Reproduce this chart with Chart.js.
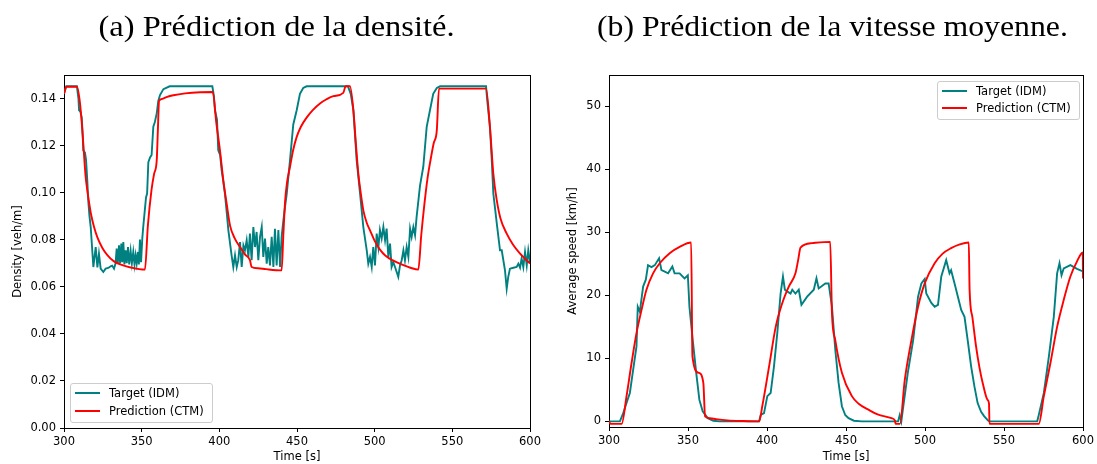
<!DOCTYPE html>
<html><head><meta charset="utf-8">
<script src="https://cdn.jsdelivr.net/npm/chart.js@4.4.1/dist/chart.umd.min.js"></script>
<style>
html,body{margin:0;padding:0;background:#fff;}
#root{position:relative;width:1097px;height:464px;overflow:hidden;background:#fff;}
canvas{position:absolute;top:0;}
.title{position:absolute;top:11px;font-family:'Liberation Serif',serif;font-size:30px;line-height:30px;white-space:nowrap;color:#000;}
.legbox{position:absolute;border:1px solid #cccccc;border-radius:3px;background:rgba(255,255,255,0.8);box-sizing:border-box;}
.legtext{position:absolute;font-family:'DejaVu Sans';font-size:11.5px;line-height:14px;height:14px;white-space:nowrap;color:#000;}
.legline{position:absolute;width:25px;height:2px;}
</style>
</head><body>
<div id="root">
  <canvas id="c1" width="548" height="464" style="left:0px;width:548px;height:464px"></canvas>
  <canvas id="c2" width="541" height="464" style="left:556px;width:541px;height:464px"></canvas>
  <div class="title" id="t1">(a) Prédiction de la densité.</div>
  <div class="title" id="t2">(b) Prédiction de la vitesse moyenne.</div>
</div>
<script>
// ---------- data ----------
const xTicksStep = 50;
const legendLabels = ['Target (IDM)', 'Prediction (CTM)'];
const titles = ['(a) Prédiction de la densité.', '(b) Prédiction de la vitesse moyenne.'];
const axisLabels = { time: 'Time [s]', density: 'Density [veh/m]', speed: 'Average speed [km/h]' };

// density, target (IDM): [time s, veh/m]
const densityTarget = [
 [300,0.142],[301.5,0.1452],[308.3,0.1452],[309.3,0.140],[309.7,0.135],[310.5,0.1345],[311.4,0.132],[312,0.125],[312.4,0.118],[313.5,0.117],
 [314.2,0.1138],[315,0.105],[315.6,0.0968],[316.4,0.090],[317.2,0.0854],[318.9,0.0684],[320.4,0.0769],[321.5,0.0682],[322.5,0.0741],[323.6,0.0677],
 [325.3,0.0663],[326.8,0.0677],[328.5,0.0680],[330,0.0687],[331,0.0690],[332.2,0.0677],[333.2,0.0700],[333.9,0.0762],[334.6,0.0698],[335.4,0.0776],
 [336.1,0.0700],[336.9,0.0784],[337.5,0.0705],[338.2,0.0790],[338.9,0.0695],[339.7,0.0755],[340.4,0.0700],[341.2,0.0769],[342,0.0695],[342.9,0.0752],
 [343.7,0.0700],[344.6,0.0748],[345.4,0.0695],[346.1,0.0734],[346.8,0.0700],[347.6,0.0748],[348.2,0.0695],[348.9,0.0801],[349.6,0.0705],[350.4,0.0805],
 [351,0.0854],[352.8,0.098],[353.5,0.0996],[354.3,0.113],[355.4,0.115],[356.4,0.116],[357.5,0.128],[358.5,0.130],[359.7,0.1337],[360.7,0.139],
 [361.8,0.1415],[364,0.144],[368,0.1452],[395.5,0.1452],[396.5,0.141],[397.2,0.135],[398.5,0.131],[399.3,0.118],[400.5,0.116],[401.5,0.1095],
 [402.5,0.105],[403.6,0.0996],[404.7,0.092],[405.8,0.0841],[407.9,0.0734],[409,0.0684],[410.1,0.0734],[411.2,0.0684],[412.2,0.0713],[413.3,0.0790],
 [414.4,0.0684],[415.5,0.0776],[416.5,0.0755],[417.6,0.0798],[418.7,0.0727],[419.7,0.0826],[420.8,0.0713],[421.9,0.0854],[423,0.0769],[424,0.0833],
 [425.1,0.0713],[426.2,0.0812],[427.3,0.0854],[428.3,0.0727],[429.4,0.0805],[430.5,0.0698],[431.5,0.0769],[432.6,0.0691],[433.7,0.0812],[434.8,0.0684],
 [435.8,0.0847],[436.9,0.0691],[438,0.0841],[439.1,0.0684],[440.1,0.0812],[441.2,0.088],[442.3,0.094],[443.4,0.0996],[445.5,0.1138],[447.6,0.129],
 [449.8,0.135],[451.9,0.142],[454,0.1445],[456.2,0.1452],[482.8,0.1452],[484.6,0.142],[486.3,0.135],[488.4,0.1138],[490.6,0.0996],[492.7,0.0854],
 [494.9,0.0755],[495.9,0.0698],[497,0.0727],[498.1,0.0684],[499.1,0.0769],[500.2,0.0691],[501.3,0.0826],[502.4,0.0769],[503.4,0.0841],[504.5,0.0805],
 [505.6,0.0854],[506.7,0.0798],[507.7,0.0847],[508.8,0.0727],[509.9,0.0784],[510.9,0.0684],[512,0.0705],[513.1,0.0684],[515.2,0.0642],[516.3,0.0691],
 [517.4,0.0713],[518.5,0.0755],[519.5,0.0713],[520.6,0.0769],[521.7,0.0727],[522.8,0.0847],[523.8,0.0812],[524.9,0.0854],[526,0.0819],[527,0.0897],
 [529.2,0.103],[531.3,0.111],[533.5,0.128],[535.6,0.135],[537.7,0.142],[540,0.1445],[542.1,0.1452],[571.7,0.1452],[572.5,0.139],[574.2,0.128],
 [575.3,0.115],[576.4,0.0996],[578.9,0.0854],[580.7,0.0755],[581.8,0.0755],[583.9,0.0670],[585,0.0592],[586,0.0642],[587.1,0.0677],[589.3,0.0681],
 [591.4,0.0684],[592.5,0.0698],[593.6,0.0681],[594.6,0.0720],[595.7,0.0684],[596.8,0.0748],[597.9,0.0691],[598.9,0.0755],[600,0.0705]
];

// density, prediction (CTM)
const densityPrediction = [
 [300,0.142],[301.5,0.145],[308.4,0.145],[310.3,0.138],[311.4,0.130],[312.4,0.121],[313.9,0.107],[315,0.101],[316.1,0.096],[317.5,0.0905],
 [319.3,0.0855],[321.5,0.081],[324.7,0.0765],[327.9,0.0735],[332.2,0.0708],[337.6,0.0692],[342.9,0.0682],[352.1,0.0673],[354,0.086],[356.3,0.101],
 [358,0.108],[359.7,0.1138],[360.4,0.126],[361.2,0.139],[363,0.1398],[366,0.1406],[370.4,0.1414],[378,0.1422],[387.6,0.1427],[395.8,0.1428],
 [398,0.130],[400.4,0.118],[402.6,0.105],[404.7,0.0954],[406.9,0.0860],[410,0.0805],[413.3,0.0769],[416.5,0.0738],[419.7,0.0713],[420.8,0.0684],
 [425,0.0679],[430,0.0675],[440.1,0.0670],[441.2,0.082],[442.3,0.096],[443.5,0.104],[445.5,0.111],[447.5,0.118],[449.8,0.1237],[452.5,0.128],
 [456.3,0.132],[460,0.135],[464.8,0.1379],[469,0.1397],[473.4,0.141],[479.8,0.1424],[481.3,0.1452],[484.1,0.1452],[486.3,0.135],[488,0.120],
 [489.5,0.108],[491,0.100],[492.7,0.0925],[495,0.0870],[497,0.0840],[500,0.0795],[503.4,0.0758],[507,0.0732],[512,0.0711],[518.5,0.0692],
 [523,0.0681],[528.1,0.0673],[530,0.082],[532,0.095],[534,0.106],[536,0.114],[538,0.121],[540,0.1265],[541.4,0.1442],[571.7,0.1442],
 [574.2,0.128],[576.4,0.108],[578.6,0.0968],[581,0.089],[585,0.0826],[589,0.0780],[593.6,0.0741],[597,0.0718],[600,0.0699]
];

// average speed, target (IDM): [time s, km/h]
const speedTarget = [
 [300,0],[306.9,0],[309,1.3],[311.1,2.9],[313.2,4.5],[315.3,8.2],[317.4,11.9],[318.2,18.2],[319.5,17.4],[321.6,21.4],
 [323.3,22.5],[324.7,24.8],[326.9,24.5],[329,24.8],[331.7,25.9],[333.2,24],[335,23.8],[337.4,23.5],[340.1,24.6],[341.5,23.5],
 [344.7,23.5],[347.8,22.7],[349.9,23.2],[350.9,18.2],[353,12.9],[355.2,7.7],[357.2,3.4],[359.3,1.6],[362.5,0.5],[366,0.1],
 [370,0],[395,0],[396,1],[398.1,1.3],[400.2,4],[402.3,4.5],[404.4,8.7],[406.5,14],[408.6,20.3],[410.1,23],
 [411.3,20.9],[413,20.6],[414.9,20.3],[416,20.9],[418,20.3],[420.1,20.9],[421.8,18.5],[425.4,19.8],[429.6,20.9],[431.3,22.7],
 [432.7,21.1],[436.9,21.9],[439,21.9],[441.1,18.2],[443.2,11.4],[445.3,6.1],[447.4,2.4],[449.5,1],[451.6,0.5],[455,0.1],
 [460,0],[483,0],[484,1],[485,0],[486,1.9],[489.1,7.7],[492.5,12.9],[495.6,19.8],[497.7,21.9],[499.8,22.6],
 [500.8,20.3],[504,18.8],[506.1,18.2],[508.2,18.5],[510.3,23],[513.4,25.6],[515.5,23.5],[516.5,24],[518.7,21.9],[520.8,19.8],
 [522.9,17.7],[525,16.6],[527,12.9],[529.2,8.7],[531.3,5.5],[533.3,2.9],[535.5,1.5],[537.5,0.8],[540,0.1],[541,0],
 [571,0],[572,1],[575.2,4.5],[578.4,10.3],[581.5,16.6],[583.6,23.5],[585.1,25.1],[586.4,23.2],[587.8,24.3],[592,24.8],
 [596.2,24.2],[600,23.8]
];

// average speed, prediction (CTM)
const speedPrediction = [
 [300,0],[301,-0.4],[308,-0.4],[311.1,4],[314.3,9.3],[317.4,14],[320.6,17.7],[323.7,20.9],[327.9,23.5],[332.1,25.1],
 [338.4,26.7],[344.7,27.7],[352,28.4],[352.8,10.3],[356.8,7.7],[359.7,6.1],[360.8,0.8],[364,0.5],[367.7,0.35],[375,0.15],
 [385,0.05],[395,0],[397,2.4],[401.3,8.7],[405.5,15],[409.7,18.8],[413.8,21.4],[418,23.5],[419.7,25.6],[421.2,27.6],
 [428.5,28.3],[440,28.5],[441.1,17.2],[443.2,12.9],[447.4,7.7],[453.7,4],[458,2.8],[464.2,1.85],[470,1.1],[478.8,0.5],
 [481,0.1],[481.4,-0.4],[484.1,-0.4],[487.2,6.6],[491.4,12.9],[495.6,18.2],[499.8,21.9],[506.1,25.1],[511,26.6],[516.5,27.5],
 [522,28.1],[527.7,28.4],[528.2,21],[530,16.5],[532.3,11.9],[534.5,8.5],[536.5,6.1],[539.6,3.4],[540.5,2.8],[540.8,-0.4],
 [572,-0.4],[575.2,4],[579.4,9.3],[583.6,15],[587.8,19.3],[592,23],[596.2,25.4],[599.8,26.8],[600,22.7]
];

// ---------- styling / layout ----------
const TEAL = '#008080', RED = '#ff0000';
const FONT = 'DejaVu Sans';
const toXY = arr => arr.map(p => ({x: p[0], y: p[1]}));

function makeChart(id, cfg) {
  const tickFont = {family: FONT, size: 11.5};
  return new Chart(document.getElementById(id), {
    type: 'line',
    data: {
      datasets: [
        {label: legendLabels[1], data: toXY(cfg.pred), borderColor: RED, borderWidth: 1.9, pointRadius: 0, fill: false, cubicInterpolationMode: 'monotone', order: 0},
        {label: legendLabels[0], data: toXY(cfg.target), borderColor: TEAL, borderWidth: 1.9, pointRadius: 0, fill: false, tension: 0, order: 1}
      ]
    },
    options: {
      responsive: false, animation: false, devicePixelRatio: 1,
      layout: {padding: {top: 75, right: cfg.padRight, left: 0, bottom: 0}},
      plugins: {legend: {display: false}, tooltip: {enabled: false}},
      scales: {
        x: {
          type: 'linear', position: 'bottom', min: 300, max: 600,
          ticks: {stepSize: xTicksStep, font: tickFont, color: '#000', padding: 3, maxRotation: 0, includeBounds: false},
          grid: {display: true, drawOnChartArea: false, drawTicks: true, tickLength: 4, tickColor: '#000', tickWidth: 1, color: '#000'},
          border: {display: true, color: '#000', width: 1},
          title: {display: true, text: axisLabels.time, font: {family: FONT, size: 11.5}, color: '#000', padding: {top: 0, bottom: 0}},
          afterFit: s => { s.height = cfg.xHeight; }
        },
        y: {
          type: 'linear', position: 'left', min: cfg.yMin, max: cfg.yMax,
          ticks: {stepSize: cfg.yStep, font: tickFont, color: '#000', padding: 4, includeBounds: false, callback: cfg.fmt},
          grid: {display: true, drawOnChartArea: false, drawTicks: true, tickLength: 4, tickColor: '#000', tickWidth: 1, color: '#000'},
          border: {display: true, color: '#000', width: 1},
          title: {display: true, text: cfg.yLabel, font: {family: FONT, size: 11.5}, color: '#000', padding: {top: cfg.yTitlePad, bottom: 0}},
          afterFit: s => { s.width = cfg.yWidth; }
        },
        xTop: {
          type: 'linear', position: 'top', min: 300, max: 600,
          ticks: {display: false}, grid: {display: false, drawTicks: false},
          border: {display: true, color: '#000', width: 1},
          afterFit: s => { s.height = 0; }
        },
        yRight: {
          type: 'linear', position: 'right', min: cfg.yMin, max: cfg.yMax,
          ticks: {display: false}, grid: {display: false, drawTicks: false},
          border: {display: true, color: '#000', width: 1},
          afterFit: s => { s.width = 0; }
        }
      }
    }
  });
}

makeChart('c1', {
  target: densityTarget, pred: densityPrediction,
  yMin: 0, yMax: 0.15, yStep: 0.02, fmt: v => v.toFixed(2),
  yLabel: axisLabels.density, yWidth: 64, yTitlePad: 11, padRight: 18, xHeight: 36
});
makeChart('c2', {
  target: speedTarget, pred: speedPrediction,
  yMin: -0.9, yMax: 55, yStep: 10, fmt: v => String(Math.round(v)),
  yLabel: axisLabels.speed, yWidth: 53, yTitlePad: 10, padRight: 11, xHeight: 37
});

// ---------- titles ----------
function placeTitle(id, center, width) {
  const el = document.getElementById(id);
  const w = el.offsetWidth;
  el.style.left = (center - w / 2) + 'px';
  el.style.transform = 'scaleX(' + (width / w) + ')';
  el.style.transformOrigin = '50% 50%';
}
placeTitle('t1', 276, 356);
placeTitle('t2', 832.5, 471);

// ---------- legends ----------
const root = document.getElementById('root');
function addLegend(x, y, w, h, rows) {
  const box = document.createElement('div');
  box.className = 'legbox';
  Object.assign(box.style, {left: x + 'px', top: y + 'px', width: w + 'px', height: h + 'px'});
  root.appendChild(box);
  rows.forEach(r => {
    const ln = document.createElement('div');
    ln.className = 'legline';
    Object.assign(ln.style, {left: (x + 5) + 'px', top: (r.cy - 1) + 'px', background: r.color});
    root.appendChild(ln);
    const tx = document.createElement('div');
    tx.className = 'legtext';
    tx.textContent = r.label;
    Object.assign(tx.style, {left: (x + 39) + 'px', top: (r.cy - 7) + 'px'});
    root.appendChild(tx);
  });
}
addLegend(70, 383, 143, 40, [
  {label: legendLabels[0], color: TEAL, cy: 393},
  {label: legendLabels[1], color: RED, cy: 411}
]);
addLegend(937, 81, 143, 39, [
  {label: legendLabels[0], color: TEAL, cy: 91},
  {label: legendLabels[1], color: RED, cy: 108}
]);
</script>
</body></html>
